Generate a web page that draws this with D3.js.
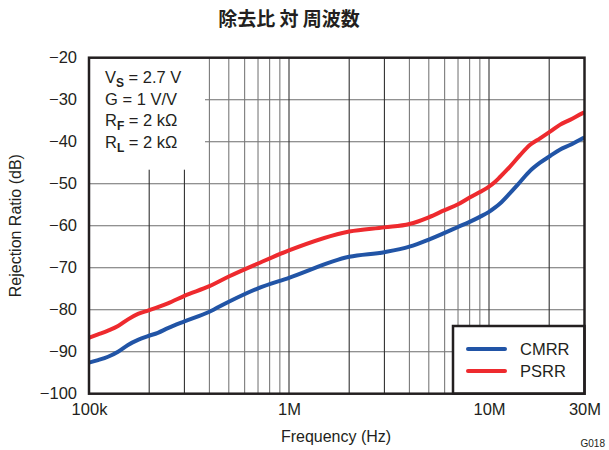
<!DOCTYPE html>
<html><head><meta charset="utf-8">
<script src="https://cdn.jsdelivr.net/npm/d3@7"></script>
<style>body{margin:0;background:#fff}svg{display:block;font-family:"Liberation Sans",Arial,sans-serif}</style>
</head><body><svg id="c" width="609" height="450"></svg>
<script>
const title = "除去比 対 周波数";
const freqCMRR = [1e5,1.11e5,1.245e5,1.397e5,1.567e5,1.758e5,1.97e5,2.21e5,2.48e5,3e5,4e5,5e5,7e5,1e6,2e6,3e6,4e6,5e6,6e6,7e6,8e6,9e6,1e7,1.07e7,1.135e7,1.27e7,1.43e7,1.6e7,1.8e7,2.02e7,2.26e7,2.54e7,2.94e7,3e7];
const cmrr = [-92.6,-92.0,-91.2,-90.0,-88.4,-87.2,-86.3,-85.5,-84.4,-82.8,-80.5,-78.1,-74.9,-72.4,-67.4,-66.3,-65.0,-63.3,-61.7,-60.3,-59.1,-57.9,-56.7,-55.7,-54.7,-52.3,-49.6,-47.0,-45.0,-43.4,-41.9,-40.8,-39.2,-39.0];
const freqPSRR = [1e5,1.11e5,1.245e5,1.397e5,1.567e5,1.758e5,1.97e5,2.21e5,2.48e5,3e5,4e5,5e5,7e5,1e6,2e6,3e6,4e6,5e6,6e6,7e6,8e6,9e6,1e7,1.07e7,1.135e7,1.27e7,1.43e7,1.6e7,1.8e7,2.02e7,2.26e7,2.54e7,2.94e7,3e7];
const psrr = [-86.7,-85.9,-85.0,-83.9,-82.3,-81.0,-80.2,-79.4,-78.5,-76.7,-74.4,-72.1,-69.0,-65.9,-61.4,-60.4,-59.6,-58.0,-56.3,-54.9,-53.3,-52.0,-50.7,-49.6,-48.4,-46.0,-43.2,-40.8,-39.2,-37.6,-36.0,-34.8,-33.2,-33.0];
const yTicks = [-100,-90,-80,-70,-60,-50,-40,-30,-20];
const xTickVals = [1e5,1e6,1e7,3e7];
const xTickLabels = ["100k","1M","10M","30M"];
const xGrid = [2e5,3e5,4e5,5e5,6e5,7e5,8e5,9e5,1e6,2e6,3e6,4e6,5e6,6e6,7e6,8e6,9e6,1e7,2e7];
const majorGrid = [1e6,1e7,2e6,3e6,2e7,2e5,3e5];
const seriesNames = ["CMRR","PSRR"];
const colors = ["#2154a6","#ee2a2e"];

const svg = d3.select("#c");
const L=89,R=584.5,T=57.7,B=393.7;
const x = d3.scaleLog().domain([1e5,3e7]).range([L, L+200*Math.log10(300)]);
const y = d3.scaleLinear().domain([-100,-20]).range([B,T]);

svg.append("text").attr("x",289).attr("y",26).attr("text-anchor","middle")
  .attr("font-family","'Noto Sans CJK JP',sans-serif").attr("font-weight","bold").attr("font-size",19).attr("fill","#231f20").text(title);

const g = svg.append("g");
g.selectAll(".hg").data(yTicks.slice(1,-1)).join("line")
  .attr("x1",L).attr("x2",R).attr("y1",d=>y(d)).attr("y2",d=>y(d))
  .attr("stroke","#6d6d6d").attr("stroke-width",1.1);
g.selectAll(".vg").data(xGrid).join("line")
  .attr("x1",d=>x(d)).attr("x2",d=>x(d)).attr("y1",T).attr("y2",B)
  .attr("stroke",d=>majorGrid.includes(d)?"#333":"#7a7a7a").attr("stroke-width",1.1);

svg.append("rect").attr("x",L).attr("y",T).attr("width",116).attr("height",112).attr("fill","#fff");

const line = d3.line().x(d=>x(d[0])).y(d=>y(d[1])).curve(d3.curveMonotoneX);
const data = [d3.zip(freqCMRR,cmrr), d3.zip(freqPSRR,psrr)];
svg.selectAll(".ln").data(data).join("path")
  .attr("d",line).attr("fill","none").attr("stroke",(d,i)=>colors[i]).attr("stroke-width",4).attr("stroke-linejoin","round");

const lg = svg.append("g");
lg.append("rect").attr("x",453).attr("y",326).attr("width",R-453).attr("height",B-326).attr("fill","#fff").attr("stroke","#231f20").attr("stroke-width",2.5);
seriesNames.forEach((n,i)=>{
  const yy = 349 + i*22;
  lg.append("line").attr("x1",468).attr("x2",505).attr("y1",yy).attr("y2",yy).attr("stroke",colors[i]).attr("stroke-width",4).attr("stroke-linecap","round");
  lg.append("text").attr("x",520).attr("y",yy+6).attr("font-size",16.5).attr("fill","#231f20").text(n);
});

svg.append("rect").attr("x",L).attr("y",T).attr("width",R-L).attr("height",B-T).attr("fill","none").attr("stroke","#231f20").attr("stroke-width",2.5);

const yAxis = d3.axisLeft(y).tickValues(yTicks).tickSize(0).tickPadding(12).tickFormat(d=>d3.format("d")(d).replace("-","\u2212"));
const ya = svg.append("g").attr("transform",`translate(${L},0)`).call(yAxis);
ya.select(".domain").remove();
ya.selectAll("text").attr("font-size",16.5).attr("fill","#231f20").attr("font-family","'Liberation Sans',Arial,sans-serif");

const xAxis = d3.axisBottom(x).tickValues(xTickVals).tickSize(0).tickPadding(10).tickFormat((d,i)=>xTickLabels[i]);
const xa = svg.append("g").attr("transform",`translate(0,${B})`).call(xAxis);
xa.select(".domain").remove();
xa.selectAll("text").attr("font-size",16.5).attr("fill","#231f20").attr("font-family","'Liberation Sans',Arial,sans-serif");

svg.append("text").attr("x",336).attr("y",442).attr("text-anchor","middle").attr("font-size",16).attr("fill","#231f20").text("Frequency (Hz)");
svg.append("text").attr("transform",`translate(21,${(T+B)/2}) rotate(-90)`).attr("text-anchor","middle").attr("font-size",16).attr("fill","#231f20").text("Rejection Ratio (dB)");
svg.append("text").attr("x",605).attr("y",447).attr("text-anchor","end").attr("font-size",10).attr("fill","#231f20").text("G018");

const ann = [["V","S"," = 2.7 V"],["G","", " = 1 V/V"],["R","F"," = 2 k\u03A9"],["R","L"," = 2 k\u03A9"]];
ann.forEach((a,i)=>{
  const t = svg.append("text").attr("x",105).attr("y",83+i*21.5).attr("font-size",16.5).attr("fill","#231f20");
  t.append("tspan").text(a[0]);
  if(a[1]) t.append("tspan").attr("dy",4).attr("font-size",12).attr("font-weight","bold").text(a[1]);
  t.append("tspan").attr("dy",a[1]?-4:0).text(a[2]);
});
</script></body></html>
